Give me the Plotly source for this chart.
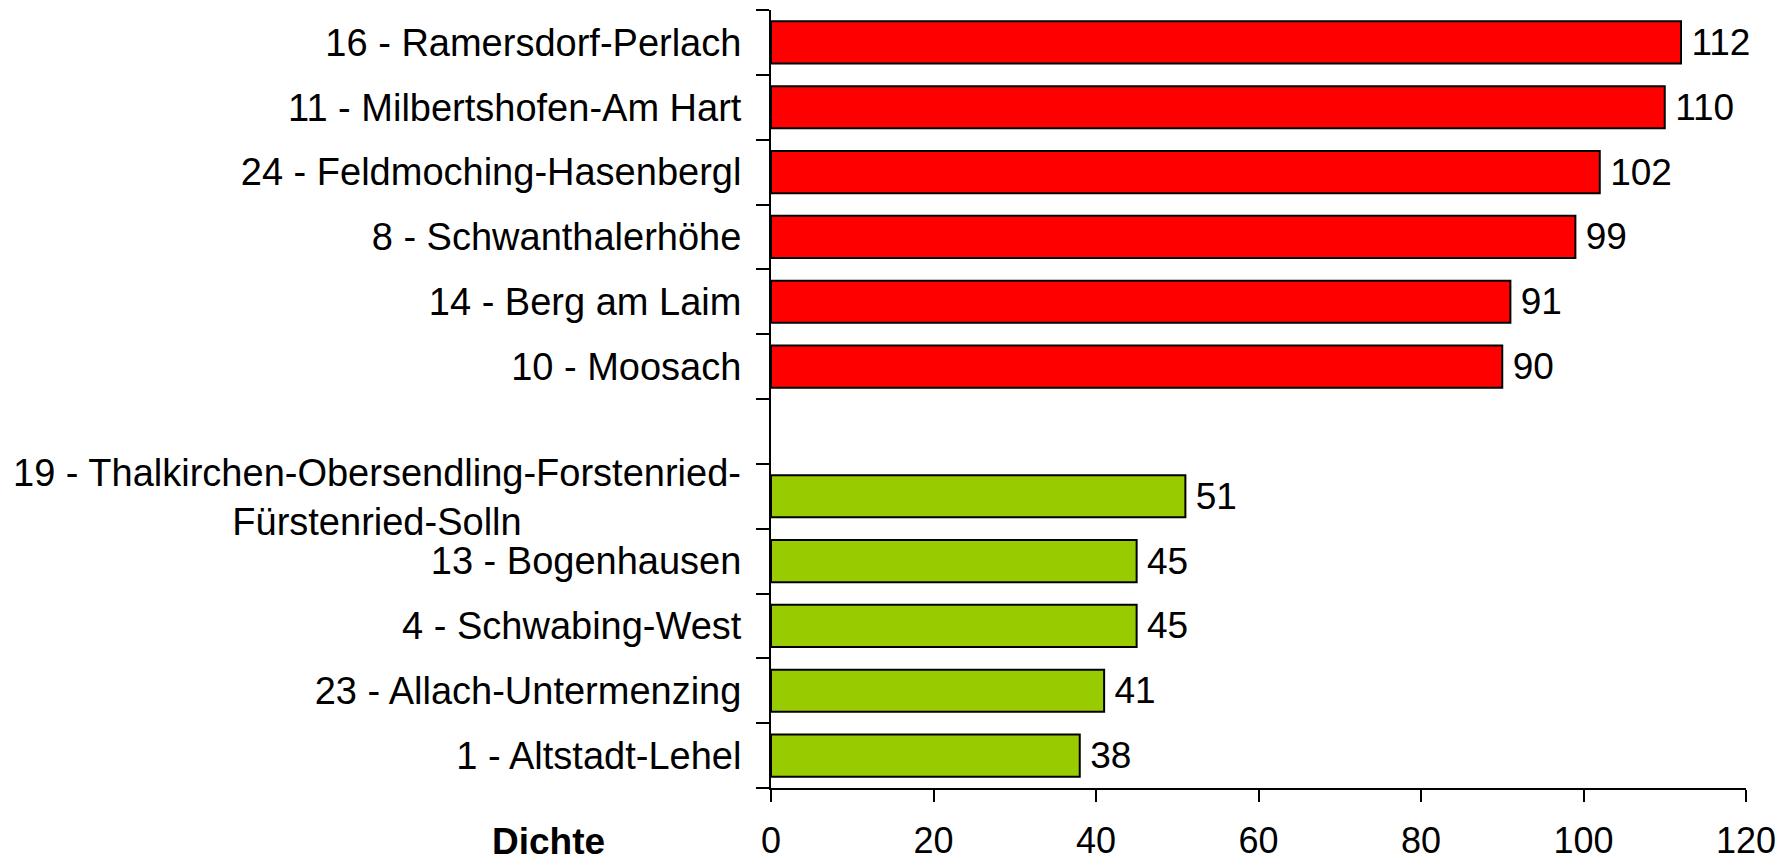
import plotly.graph_objects as go

categories = [
    "16 - Ramersdorf-Perlach",
    "11 - Milbertshofen-Am Hart",
    "24 - Feldmoching-Hasenbergl",
    "8 - Schwanthalerhöhe",
    "14 - Berg am Laim",
    "10 - Moosach",
    " ",
    "19 - Thalkirchen-Obersendling-Forstenried-<br>Fürstenried-Solln",
    "13 - Bogenhausen",
    "4 - Schwabing-West",
    "23 - Allach-Untermenzing",
    "1 - Altstadt-Lehel",
]
values = [112, 110, 102, 99, 91, 90, None, 51, 45, 45, 41, 38]
colors = ["#FF0000"] * 7 + ["#99CC00"] * 5
x_ticks = [0, 20, 40, 60, 80, 100, 120]
axis_title = "Dichte"

FONT = "Liberation Sans, Arial, sans-serif"
LONG = categories[7]
tick_text = ["" if c == LONG else c for c in categories]

fig = go.Figure()
fig.add_trace(go.Bar(
    y=categories,
    x=values,
    orientation="h",
    marker=dict(color=colors, line=dict(color="black", width=2)),
    text=["\u2009" + str(v) if v is not None else "" for v in values],
    textposition="outside",
    textfont=dict(family=FONT, size=37, color="black"),
    constraintext="none",
    cliponaxis=False,
    hoverinfo="skip",
))

# page body has an 8px margin, so the figure is sized to fit inside the window
fig.update_layout(
    width=1782,
    height=851,
    margin=dict(l=763, r=44, t=2, b=71, autoexpand=False),
    paper_bgcolor="white",
    plot_bgcolor="white",
    bargap=0.35,
    showlegend=False,
    font=dict(family=FONT, color="black"),
)

fig.update_yaxes(
    type="category",
    categoryorder="array",
    categoryarray=categories,
    tickmode="array",
    tickvals=categories,
    ticktext=tick_text,
    autorange="reversed",
    tickson="boundaries",
    ticks="outside",
    ticklen=13,
    tickwidth=2,
    tickcolor="black",
    showline=True,
    linecolor="black",
    linewidth=2,
    showgrid=False,
    automargin=False,
    tickfont=dict(family=FONT, size=38, color="black"),
    ticklabelstandoff=20,
)

fig.update_xaxes(
    range=[0, 120],
    tickmode="array",
    tickvals=x_ticks,
    ticktext=[str(t) for t in x_ticks],
    ticks="outside",
    ticklen=12,
    tickwidth=2,
    tickcolor="black",
    showline=True,
    linecolor="black",
    linewidth=2,
    showgrid=False,
    zeroline=False,
    automargin=False,
    tickfont=dict(family=FONT, size=36, color="black"),
    ticklabelstandoff=8,
)

fig.add_annotation(
    text=LONG,
    xref="paper", yref="y",
    x=0, y=LONG,
    xanchor="right", yanchor="middle",
    xshift=-28, yshift=-1,
    align="center",
    showarrow=False,
    font=dict(family=FONT, size=38, color="black"),
)

fig.add_annotation(
    text="<b>" + axis_title + "</b>",
    xref="paper", yref="paper",
    x=(548 - 771) / 975, y=(788 - 841) / 778,
    xanchor="center", yanchor="middle",
    showarrow=False,
    font=dict(family=FONT, size=37, color="black"),
)

fig.write_html("out.html")
